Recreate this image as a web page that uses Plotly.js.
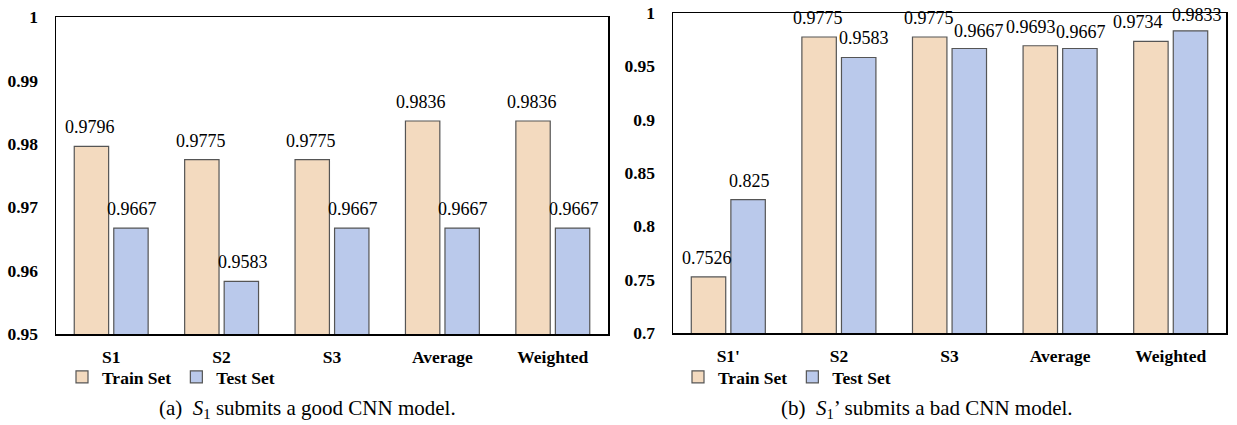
<!DOCTYPE html>
<html>
<head>
<meta charset="utf-8">
<script src="https://cdn.plot.ly/plotly-3.0.1.min.js"></script>
<style>html,body{margin:0;padding:0;background:#fff;}#chart{width:1237px;height:425px;}</style>
</head>
<body>
<div id="chart"></div>
<script>
const categoriesA = ["S1", "S2", "S3", "Average", "Weighted"];
const trainA = [0.9796, 0.9775, 0.9775, 0.9836, 0.9836];
const testA = [0.9667, 0.9583, 0.9667, 0.9667, 0.9667];

const categoriesB = ["S1'", "S2", "S3", "Average", "Weighted"];
const trainB = [0.7526, 0.9775, 0.9775, 0.9693, 0.9734];
const testB = [0.825, 0.9583, 0.9667, 0.9667, 0.9833];

const seriesNames = ["Train Set", "Test Set"];
const captionA = "(a)  <i>S</i><sub>1</sub> submits a good CNN model.";
const captionB = "(b)  <i>S</i><sub>1</sub>’ submits a bad CNN model.";

// label nudges (style only, px) used in panel (b) where labels crowd
const nudgeTrainB = [0, 0, 0, -8, -12];
const nudgeTestB = [0, 4, 8, 0, 5];
const liftTestB = [7, 7, 6, 5, 4];

const trainColor = "#F3DABF";
const testColor = "#BAC9EB";
const edge = "#555555";
const serif = "'Liberation Serif', 'Times New Roman', Times, serif";

function bar(x, y, name, color, xa, ya, leg) {
  return {
    type: "bar", x: x, y: y, name: "<b>" + name + "</b>", xaxis: xa, yaxis: ya,
    legend: leg, showlegend: true,
    marker: {color: color, line: {color: edge, width: 1.2}},
    hoverinfo: "x+y"
  };
}

const data = [
  bar(categoriesA, trainA, seriesNames[0], trainColor, "x", "y", "legend"),
  bar(categoriesA, testA, seriesNames[1], testColor, "x", "y", "legend"),
  bar(categoriesB, trainB, seriesNames[0], trainColor, "x2", "y2", "legend2"),
  bar(categoriesB, testB, seriesNames[1], testColor, "x2", "y2", "legend2")
];

// value labels, anchored to each bar's category and value
const labels = [];
function addLabels(cats, vals, xa, ya, shift, nudge, lift) {
  cats.forEach((c, i) => labels.push({
    text: String(vals[i]), xref: xa, yref: ya, x: c, y: vals[i],
    xshift: shift + (nudge ? nudge[i] : 0), yshift: lift ? lift[i] : 7,
    xanchor: "center", yanchor: "bottom", showarrow: false,
    font: {family: serif, size: 18, color: "#000"}
  }));
}
addLabels(categoriesA, trainA, "x", "y", -21);
addLabels(categoriesA, testA, "x", "y", 21);
addLabels(categoriesB, trainB, "x2", "y2", -21, nudgeTrainB);
addLabels(categoriesB, testB, "x2", "y2", 21, nudgeTestB, liftTestB);

const W = 1237, H = 425;
const tickFont = {family: serif, size: 17.5, color: "#000"};
const axisCommon = {
  showline: true, linecolor: "#000", linewidth: 1.5, mirror: true,
  showgrid: false, zeroline: false, ticks: "",
  tickfont: tickFont
};
const boldTicks = arr => ({tickmode: "array", tickvals: arr, ticktext: arr.map(s => "<b>" + s + "</b>")});
const yTicksA = [0.95, 0.96, 0.97, 0.98, 0.99, 1];
const yTicksB = [0.7, 0.75, 0.8, 0.85, 0.9, 0.95, 1];

const layout = {
  width: W, height: H,
  margin: {l: 0, r: 0, t: 0, b: 0},
  paper_bgcolor: "#fff", plot_bgcolor: "#fff",
  barmode: "group", bargap: 0.284, bargroupgap: 0.13,
  font: {family: serif, color: "#000"},
  xaxis: Object.assign({}, axisCommon, boldTicks(categoriesA), {domain: [56 / W, 608 / W], anchor: "y", ticklabelstandoff: 6}),
  yaxis: Object.assign({}, axisCommon, {tickmode: "array", tickvals: yTicksA, ticktext: yTicksA.map(v => "<b>" + v + "</b>")},
    {domain: [1 - 334 / H, 1 - 17 / H], anchor: "x", range: [0.95, 1], ticklabelstandoff: 13}),
  xaxis2: Object.assign({}, axisCommon, boldTicks(categoriesB), {domain: [673 / W, 1226 / W], anchor: "y2", ticklabelstandoff: 6}),
  yaxis2: Object.assign({}, axisCommon, {tickmode: "array", tickvals: yTicksB, ticktext: yTicksB.map(v => "<b>" + v + "</b>")},
    {domain: [1 - 333 / H, 1 - 13 / H], anchor: "x2", range: [0.7, 1], ticklabelstandoff: 13}),
  legend: {
    orientation: "h", x: 62 / W, y: 1 - 359 / H, xanchor: "left", yanchor: "top",
    font: {family: serif, size: 17.5, color: "#000"},
    bgcolor: "rgba(0,0,0,0)", itemwidth: 30, tracegroupgap: 0
  },
  legend2: {
    orientation: "h", x: 678 / W, y: 1 - 359 / H, xanchor: "left", yanchor: "top",
    font: {family: serif, size: 17.5, color: "#000"},
    bgcolor: "rgba(0,0,0,0)", itemwidth: 30, tracegroupgap: 0
  },
  annotations: labels.concat([
    {text: captionA, xref: "paper", yref: "paper", x: 307 / W, y: 1 - 409 / H, xanchor: "center", yanchor: "middle", showarrow: false, font: {family: serif, size: 21, color: "#000"}},
    {text: captionB, xref: "paper", yref: "paper", x: 927 / W, y: 1 - 409 / H, xanchor: "center", yanchor: "middle", showarrow: false, font: {family: serif, size: 21, color: "#000"}}
  ])
};

Plotly.newPlot("chart", data, layout, {displayModeBar: false, staticPlot: true});
</script>
</body>
</html>
